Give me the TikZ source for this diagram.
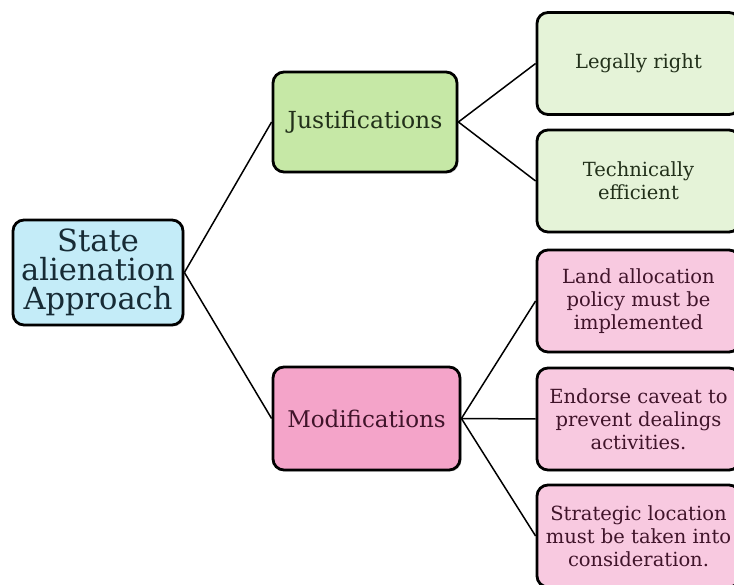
\documentclass[tikz,border=0pt]{standalone}
\usepackage{fontspec}
\setmainfont{DejaVu Serif}
\usetikzlibrary{shadows}
\definecolor{rootfill}{HTML}{C4ECF8}
\definecolor{midgreen}{HTML}{C6E8A6}
\definecolor{leafgreen}{HTML}{E5F3D8}
\definecolor{midpink}{HTML}{F4A4C9}
\definecolor{leafpink}{HTML}{F8C9E0}
\definecolor{txtblue}{HTML}{172B35}
\definecolor{txtgreen}{HTML}{22301A}
\definecolor{txtpink}{HTML}{40142A}
\tikzset{
  box/.style={draw=black, line width=2.8pt, rounded corners=11pt, align=center, inner sep=2pt,
    drop shadow={shadow xshift=1.5pt, shadow yshift=-1.5pt, opacity=0.35}},
  rootbox/.style={box, fill=rootfill, text=txtblue, minimum width=170pt, minimum height=105pt,
    font=\fontsize{30.5}{29}\selectfont},
  midg/.style={box, fill=midgreen, text=txtgreen, minimum width=184pt, minimum height=100pt,
    font=\fontsize{23.5}{26}\selectfont},
  midp/.style={box, fill=midpink, text=txtpink, minimum width=187pt, minimum height=103pt,
    font=\fontsize{23}{26}\selectfont},
  leafg/.style={box, fill=leafgreen, text=txtgreen, minimum width=203pt, minimum height=102pt,
    font=\fontsize{19.5}{23}\selectfont},
  leafp/.style={box, fill=leafpink, text=txtpink, minimum width=203pt, minimum height=102pt,
    font=\fontsize{19.5}{23}\selectfont},
  conn/.style={draw=black, line width=1.5pt}
}
\begin{document}
\begin{tikzpicture}[x=1pt,y=-1pt]
\useasboundingbox (0,0) rectangle (734,585);
\clip (0,0) rectangle (734,585);
\node[rootbox] (root) at (98,272.5) {State\\alienation\\Approach};
\node[midg] (just) at (365,122) {Justifications};
\node[midp] (mod) at (366.5,418.5) {Modifications};
\node[leafg] (legal) at (638.5,63.5) {Legally right};
\node[leafg] (tech) at (638.5,181) {Technically\\efficient};
\node[leafp] (land) at (638.5,301) {Land allocation\\policy must be\\implemented};
\node[leafp] (endorse) at (638.5,419) {Endorse caveat to\\prevent dealings\\activities.};
\node[leafp] (strat) at (638.5,536) {Strategic location\\must be taken into\\consideration.};
\draw[conn] (root.east) -- (just.west);
\draw[conn] (root.east) -- (mod.west);
\draw[conn] (just.east) -- (legal.west);
\draw[conn] (just.east) -- (tech.west);
\draw[conn] (mod.east) -- (land.west);
\draw[conn] (mod.east) -- (endorse.west);
\draw[conn] (mod.east) -- (strat.west);
\end{tikzpicture}
\end{document}
